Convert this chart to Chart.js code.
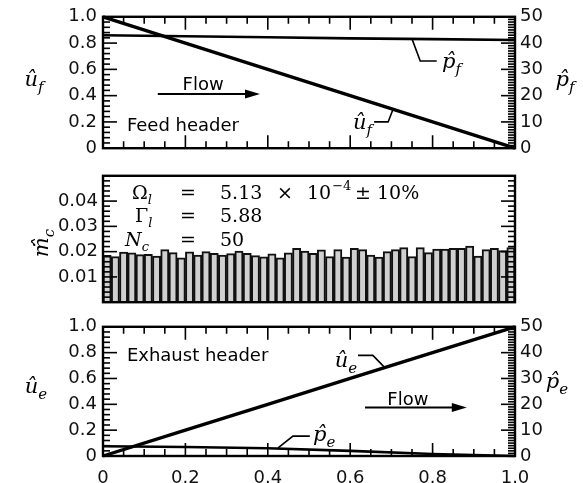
<!DOCTYPE html>
<html><head><meta charset="utf-8">
<script src="https://cdn.jsdelivr.net/npm/chart.js@4"></script>
<style>
html,body{margin:0;padding:0;background:#fff;}
#wrap{position:relative;width:583px;height:483px;overflow:hidden;}
canvas{position:absolute;left:0;}
</style></head><body>
<div id="wrap">
<canvas id="c1" width="583" height="165" style="top:0px"></canvas>
<canvas id="c2" width="583" height="158" style="top:160px"></canvas>
<canvas id="c3" width="583" height="173" style="top:310px"></canvas>
</div>
<script>
// ---------- data ----------
const positions = [0, 0.2, 0.4, 0.6, 0.8, 1.0];
const xTickLabels = ['0', '0.2', '0.4', '0.6', '0.8', '1.0'];
const feedVelocity = [1.0, 0.8, 0.6, 0.4, 0.2, 0.0];
const feedPressure = [43.0, 42.6, 42.2, 41.8, 41.5, 41.2];
const exhaustVelocity = [0.0, 0.2, 0.4, 0.6, 0.8, 1.0];
const exhaustPressure = [3.8, 3.5, 3.0, 2.0, 0.8, 0.0];
const channelIndex = Array.from({length: 50}, (_, i) => i + 1);
const channelFlow = [
  0.0185, 0.0180, 0.0198, 0.0195, 0.0188, 0.0189, 0.0182, 0.0208, 0.0196, 0.0176,
  0.0199, 0.0186, 0.0200, 0.0193, 0.0186, 0.0192, 0.0202, 0.0193, 0.0184, 0.0179,
  0.0191, 0.0176, 0.0195, 0.0213, 0.0202, 0.0193, 0.0207, 0.0180, 0.0208, 0.0178,
  0.0213, 0.0208, 0.0186, 0.0178, 0.0200, 0.0208, 0.0216, 0.0180, 0.0216, 0.0196,
  0.0210, 0.0210, 0.0213, 0.0213, 0.0222, 0.0182, 0.0208, 0.0213, 0.0204, 0.0216
];
const uTicks = [0, 0.2, 0.4, 0.6, 0.8, 1.0];
const pTicks = [0, 10, 20, 30, 40, 50];
const mTicks = [0.01, 0.02, 0.03, 0.04];

// ---------- helpers ----------
Chart.defaults.font.family = '"DejaVu Sans", sans-serif';
Chart.defaults.font.size = 18;
Chart.defaults.color = '#111';

const SERIF = '"DejaVu Serif", serif';
function mathText(ctx, x, y, tokens, size, align) {
  const fontFor = tk => (tk.it ? 'italic ' : '') + Math.round(size * ((tk.sub || tk.sup) ? 0.7 : 1)) + 'px ' + SERIF;
  let w = 0;
  for (const tk of tokens) { ctx.font = fontFor(tk); w += ctx.measureText(tk.t).width + (tk.dx || 0); }
  let cx = align === 'right' ? x - w : align === 'center' ? x - w / 2 : x;
  ctx.textAlign = 'left';
  ctx.textBaseline = 'alphabetic';
  for (const tk of tokens) {
    ctx.font = fontFor(tk);
    const dy = tk.sub ? size * 0.28 : tk.sup ? -size * 0.45 : 0;
    cx += (tk.dx || 0);
    ctx.fillText(tk.t, cx, y + dy);
    cx += ctx.measureText(tk.t).width;
  }
}
function arrow(ctx, x0, x1, y) {
  ctx.lineWidth = 2;
  ctx.beginPath(); ctx.moveTo(x0, y); ctx.lineTo(x1 - 10, y); ctx.stroke();
  ctx.beginPath(); ctx.moveTo(x1, y); ctx.lineTo(x1 - 15, y - 4.5); ctx.lineTo(x1 - 15, y + 4.5); ctx.closePath(); ctx.fill();
}
function leader(ctx, pts) {
  ctx.lineWidth = 1.6;
  ctx.beginPath(); ctx.moveTo(pts[0][0], pts[0][1]);
  for (let i = 1; i < pts.length; i++) ctx.lineTo(pts[i][0], pts[i][1]);
  ctx.stroke();
}
function drawFrame(chart, cfg) {
  const ctx = chart.ctx, a = chart.chartArea;
  ctx.save();
  ctx.setLineDash([]);
  ctx.strokeStyle = '#000';
  ctx.lineWidth = 1.6;
  const tickSet = (spec, cb) => {
    const scale = chart.scales[spec.id];
    const n = Math.round((spec.max - spec.min) / spec.minor);
    for (let i = 0; i <= n; i++) {
      const v = spec.min + i * spec.minor;
      const r = v / spec.major;
      const major = Math.abs(r - Math.round(r)) < 1e-6;
      const p = scale.getPixelForValue(v);
      ctx.beginPath();
      cb(p, major);
      ctx.stroke();
    }
  };
  if (cfg.x) tickSet(cfg.x, (p, M) => {
    const L = M ? 13 : 7;
    ctx.moveTo(p, a.bottom); ctx.lineTo(p, a.bottom - L);
    ctx.moveTo(p, a.top); ctx.lineTo(p, a.top + L);
  });
  if (cfg.yl) tickSet(cfg.yl, (p, M) => {
    const L = M ? 14 : 7;
    ctx.moveTo(a.left, p); ctx.lineTo(a.left + L, p);
  });
  if (cfg.yr) tickSet(cfg.yr, (p, M) => {
    const L = M ? 14 : 7;
    ctx.moveTo(a.right, p); ctx.lineTo(a.right - L, p);
  });
  ctx.lineWidth = 2.4;
  ctx.strokeRect(a.left, a.top, a.right - a.left, a.bottom - a.top);
  ctx.restore();
}
const noGrid = {display: false, drawTicks: false};
const noBorder = {display: false};
const fmtU = v => { const r = Math.round(v * 10); return r === 0 ? '0' : (r / 10).toFixed(1); };
const leftFit = s => { s.width = 103; };
const rightFit = s => { s.width = 68; };
const base = {
  responsive: false, animation: false, events: [],
  elements: {point: {radius: 0}, line: {tension: 0}},
  plugins: {legend: {display: false}, tooltip: {enabled: false}}
};
const xFrame = {id: 'x', min: 0, max: 1, minor: 0.05, major: 0.2};
const uFrame = {id: 'y', min: 0, max: 1, minor: 0.04, major: 0.2};
const pFrame = {id: 'y1', min: 0, max: 50, minor: 1, major: 10};
const mFrame = {id: 'y', min: 0, max: 0.05, minor: 0.002, major: 0.01};

// ---------- top: feed header ----------
new Chart(document.getElementById('c1'), {
  type: 'line',
  data: {datasets: [
    {data: positions.map((x, i) => ({x, y: feedVelocity[i]})), yAxisID: 'y', borderColor: '#000', borderWidth: 3.4, clip: false},
    {data: positions.map((x, i) => ({x, y: feedPressure[i]})), yAxisID: 'y1', borderColor: '#000', borderWidth: 2.6, clip: false}
  ]},
  options: Object.assign({}, base, {
    layout: {padding: {top: 15, bottom: 10, left: 0, right: 0}},
    scales: {
      x: {type: 'linear', min: 0, max: 1, display: false},
      y: {position: 'left', min: 0, max: 1, afterBuildTicks: s => { s.ticks = uTicks.map(v => ({value: v})); },
          ticks: {padding: 6, callback: fmtU}, grid: noGrid, border: noBorder, afterFit: leftFit},
      y1: {position: 'right', min: 0, max: 50, afterBuildTicks: s => { s.ticks = pTicks.map(v => ({value: v})); },
          ticks: {padding: 5}, grid: noGrid, border: noBorder, afterFit: rightFit}
    }
  }),
  plugins: [
    {id: 'annot1', afterDraw(chart) {
      drawFrame(chart, {x: xFrame, yl: uFrame, yr: pFrame});
      const {ctx, scales: {x, y, y1}} = chart;
      const X = v => x.getPixelForValue(v), U = v => y.getPixelForValue(v), P = v => y1.getPixelForValue(v);
      ctx.save(); ctx.fillStyle = '#000'; ctx.strokeStyle = '#000';
      ctx.font = '18px "DejaVu Sans"'; ctx.textAlign = 'center'; ctx.textBaseline = 'alphabetic';
      ctx.fillText('Flow', X(0.243), U(0.443));
      arrow(ctx, X(0.133), X(0.381), U(0.412));
      ctx.textAlign = 'left';
      ctx.fillText('Feed header', X(0.058), U(0.129));
      leader(ctx, [[X(0.658), U(0.2)], [X(0.692), U(0.2)], [X(0.704), U(0.296)]]);
      mathText(ctx, X(0.653), U(0.143), [{t: 'û', it: 1}, {t: 'f', it: 1, sub: 1}], 21, 'right');
      leader(ctx, [[X(0.75), P(41.6)], [X(0.77), P(33.2)], [X(0.81), P(33.2)]]);
      mathText(ctx, X(0.823), P(30.4), [{t: 'p\u0302', it: 1}, {t: 'f', it: 1, sub: 1}], 21, 'left');
      mathText(ctx, 34, 86, [{t: 'û', it: 1}, {t: 'f', it: 1, sub: 1}], 21, 'center');
      mathText(ctx, 565, 86, [{t: 'p\u0302', it: 1}, {t: 'f', it: 1, sub: 1}], 21, 'center');
      ctx.restore();
    }}
  ]
});

// ---------- middle: channel flow ----------
new Chart(document.getElementById('c2'), {
  type: 'bar',
  data: {labels: channelIndex, datasets: [
    {data: channelFlow, backgroundColor: '#d0d0d0', borderColor: '#111', borderWidth: 2,
     barPercentage: 1, categoryPercentage: 1}
  ]},
  options: Object.assign({}, base, {
    layout: {padding: {top: 10, bottom: 10, left: 0, right: 0}},
    scales: {
      x: {type: 'category', display: false},
      y: {position: 'left', min: 0, max: 0.05, afterBuildTicks: s => { s.ticks = mTicks.map(v => ({value: v})); },
          ticks: {padding: 5, callback: v => v.toFixed(2)}, grid: noGrid, border: noBorder, afterFit: leftFit},
      y1: {position: 'right', min: 0, max: 0.05, ticks: {display: false}, grid: noGrid, border: noBorder, afterFit: rightFit}
    }
  }),
  plugins: [
    {id: 'annot2', afterDraw(chart) {
      drawFrame(chart, {yl: mFrame, yr: mFrame});
      const {ctx, chartArea: a} = chart;
      ctx.save(); ctx.fillStyle = '#000';
      const L = a.left, T = a.top, S = 19;
      const up = t => ({t}), it = t => ({t, it: 1});
      mathText(ctx, L + 29, T + 23, [up('Ω'), {t: 'l', it: 1, sub: 1}], S, 'left');
      mathText(ctx, L + 77, T + 23, [up('=')], S, 'left');
      mathText(ctx, L + 117, T + 23, [up('5.13')], S, 'left');
      mathText(ctx, L + 174, T + 23, [up('×')], S, 'left');
      mathText(ctx, L + 204, T + 23, [up('10'), {t: '−4', sup: 1, dx: 1}], S, 'left');
      mathText(ctx, L + 252, T + 23, [up('±'), up(' 10%')], S, 'left');
      mathText(ctx, L + 32, T + 46, [up('Γ'), {t: 'l', it: 1, sub: 1}], S, 'left');
      mathText(ctx, L + 77, T + 46, [up('=')], S, 'left');
      mathText(ctx, L + 117, T + 46, [up('5.88')], S, 'left');
      mathText(ctx, L + 22, T + 70, [it('N'), {t: 'c', it: 1, sub: 1}], S, 'left');
      mathText(ctx, L + 77, T + 70, [up('=')], S, 'left');
      mathText(ctx, L + 117, T + 70, [up('50')], S, 'left');
      ctx.translate(48, 83);
      ctx.rotate(-Math.PI / 2);
      mathText(ctx, 0, 0, [{t: 'm\u0307\u0302', it: 1}, {t: 'c', it: 1, sub: 1}], 21, 'center');
      ctx.restore();
    }}
  ]
});

// ---------- bottom: exhaust header ----------
new Chart(document.getElementById('c3'), {
  type: 'line',
  data: {datasets: [
    {data: positions.map((x, i) => ({x, y: exhaustVelocity[i]})), yAxisID: 'y', borderColor: '#000', borderWidth: 3.4, clip: false},
    {data: positions.map((x, i) => ({x, y: exhaustPressure[i]})), yAxisID: 'y1', borderColor: '#000', borderWidth: 2.6, clip: false}
  ]},
  options: Object.assign({}, base, {
    layout: {padding: {top: 10, bottom: 0, left: 0, right: 0}},
    scales: {
      x: {type: 'linear', min: 0, max: 1, position: 'bottom',
          afterBuildTicks: s => { s.ticks = positions.map(v => ({value: v})); },
          ticks: {padding: 12, maxRotation: 0, callback: (v, i) => xTickLabels[i]},
          grid: noGrid, border: noBorder, afterFit: s => { s.height = 27; }},
      y: {position: 'left', min: 0, max: 1, afterBuildTicks: s => { s.ticks = uTicks.map(v => ({value: v})); },
          ticks: {padding: 6, callback: fmtU}, grid: noGrid, border: noBorder, afterFit: leftFit},
      y1: {position: 'right', min: 0, max: 50, afterBuildTicks: s => { s.ticks = pTicks.map(v => ({value: v})); },
          ticks: {padding: 5}, grid: noGrid, border: noBorder, afterFit: rightFit}
    }
  }),
  plugins: [
    {id: 'annot3', afterDraw(chart) {
      drawFrame(chart, {x: xFrame, yl: uFrame, yr: pFrame});
      const {ctx, scales: {x, y, y1}} = chart;
      const X = v => x.getPixelForValue(v), U = v => y.getPixelForValue(v), P = v => y1.getPixelForValue(v);
      ctx.save(); ctx.fillStyle = '#000'; ctx.strokeStyle = '#000';
      ctx.font = '18px "DejaVu Sans"'; ctx.textAlign = 'left'; ctx.textBaseline = 'alphabetic';
      ctx.fillText('Exhaust header', X(0.058), U(0.735));
      ctx.textAlign = 'center';
      ctx.fillText('Flow', X(0.740), U(0.397));
      arrow(ctx, X(0.636), X(0.883), U(0.375));
      leader(ctx, [[X(0.619), U(0.779)], [X(0.655), U(0.779)], [X(0.684), U(0.684)]]);
      mathText(ctx, X(0.617), U(0.691), [{t: 'û', it: 1}, {t: 'e', it: 1, sub: 1}], 21, 'right');
      leader(ctx, [[X(0.425), P(3.1)], [X(0.461), P(7.7)], [X(0.502), P(7.7)]]);
      mathText(ctx, X(0.51), P(5.9), [{t: 'p\u0302', it: 1}, {t: 'e', it: 1, sub: 1}], 21, 'left');
      mathText(ctx, 36, 83, [{t: 'û', it: 1}, {t: 'e', it: 1, sub: 1}], 21, 'center');
      mathText(ctx, 557, 78, [{t: 'p\u0302', it: 1}, {t: 'e', it: 1, sub: 1}], 21, 'center');
      ctx.restore();
    }}
  ]
});
</script>
</body></html>
